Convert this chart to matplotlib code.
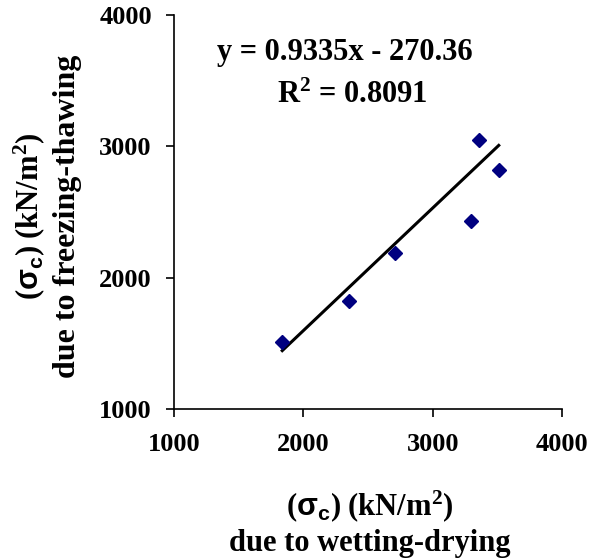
import numpy as np
import matplotlib.pyplot as plt

plt.rcParams['font.family'] = ['Liberation Serif', 'DejaVu Serif']
plt.rcParams['font.weight'] = 'bold'
plt.rcParams['mathtext.fontset'] = 'custom'
plt.rcParams['mathtext.rm'] = 'Liberation Serif:bold'
plt.rcParams['mathtext.it'] = 'Liberation Serif:bold'
plt.rcParams['mathtext.bf'] = 'Liberation Serif:bold'
plt.rcParams['mathtext.sf'] = 'Liberation Sans:bold'

# strength after wetting-drying vs freezing-thawing (kN/m2)
wet_dry = [1837, 2353, 2709, 3294, 3356, 3511]
freeze_thaw = [1512, 1822, 2185, 2429, 3048, 2820]

# trend line from the reference
slope = 0.9335
intercept = -270.36
r2 = 0.8091

ticks = [1000, 2000, 3000, 4000]

fig = plt.figure(figsize=(5.9, 5.58), dpi=100)
ax = fig.add_axes([0.2949, 0.267, 0.6576, 0.7061])

ax.plot(wet_dry, freeze_thaw, 'D', color='#000080', markersize=7.5, zorder=3)
xl = np.array([min(wet_dry), max(wet_dry)])
ax.plot(xl, slope * xl + intercept, color='black', lw=2.2, zorder=2)

ax.set_xlim(1000, 4000)
ax.set_ylim(1000, 4000)
ax.set_xticks(ticks)
ax.set_yticks(ticks)
ax.spines['top'].set_visible(False)
ax.spines['right'].set_visible(False)
for s in ['left', 'bottom']:
    ax.spines[s].set_linewidth(1.2)
ax.tick_params(axis='x', direction='out', length=6, width=1.2, pad=11, labelsize=19)
ax.tick_params(axis='y', direction='out', length=6, width=1.2, pad=10, labelsize=19)

ax.text(0.44, 0.904, 'y = 0.9335x - 270.36', transform=ax.transAxes,
        ha='center', va='center', fontsize=22, fontweight='bold')
ax.text(0.461, 0.797, 'R$^{2}$ = %.4f' % r2, transform=ax.transAxes,
        ha='center', va='center', fontsize=22, fontweight='bold')

lab1 = r'($\mathsf{\sigma_{c}}$) (kN/m$^{2}$)'
fig.text(0.626, 0.093, lab1, ha='center', va='center',
         fontsize=22, fontweight='bold')
fig.text(0.626, 0.026, 'due to wetting-drying', ha='center', va='center',
         fontsize=22, fontweight='bold')
fig.text(0.050, 0.613, lab1, ha='center', va='center',
         rotation=90, fontsize=22, fontweight='bold')
fig.text(0.114, 0.613, 'due to freezing-thawing', ha='center', va='center',
         rotation=90, fontsize=23, fontweight='bold')

fig.savefig('out.png', dpi=100)
